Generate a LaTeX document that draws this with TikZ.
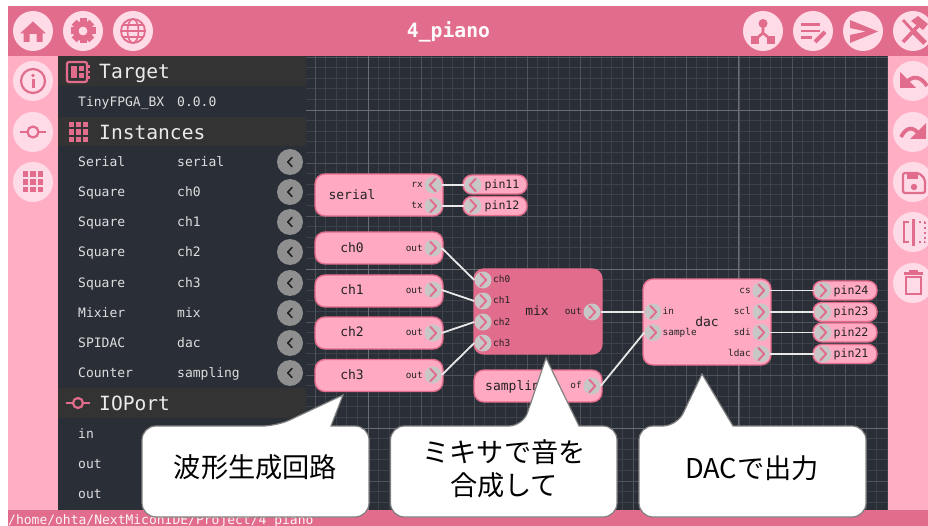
\documentclass[tikz,border=0pt]{standalone}
\usepackage{fontspec}
\setmainfont{DejaVu Sans Mono}
\setmonofont{DejaVu Sans Mono}
\newfontfamily\jpfont{Noto Sans CJK JP}
\definecolor{pinkd}{HTML}{E26C8C}
\definecolor{pinkn}{HTML}{FFAAC2}
\definecolor{pinkl}{HTML}{FFDBE8}
\definecolor{pinkp}{HTML}{FFAEC4}
\definecolor{darkbg}{HTML}{2A2E37}
\definecolor{headbg}{HTML}{333333}
\definecolor{gridA}{HTML}{3D4149}
\definecolor{gridB}{HTML}{4F535B}
\definecolor{gridC}{HTML}{6A6D74}
\definecolor{side}{HTML}{DEDEDE}
\definecolor{ink}{HTML}{222222}
\definecolor{wire}{HTML}{E8E8E8}
\newcommand\fsz[1]{\fontsize{#1}{#1}\selectfont}
\tikzset{
 block/.style={draw=pinkd,fill=pinkn,line width=1.4,rounded corners=10,inner sep=0,minimum width=128},
 pinbox/.style={draw=pinkd,fill=pinkn,line width=1.4,rounded corners=9,inner sep=0,minimum width=64,minimum height=19},
 portdot/.style={circle,fill=black!22,inner sep=0,minimum size=17},
 chev/.style={draw=pinkd,line width=1.9,line cap=round,line join=round},
 wirel/.style={draw=wire,line width=1.8},
 lbl/.style={inner sep=0,text=ink,font=\fsz{13},text height=9.5,text depth=2.6,yshift=-1},
 plbl/.style={inner sep=0,text=ink,font=\fsz{9.4},text height=7,text depth=1.9,yshift=-.8},
 pinl/.style={inner sep=0,text=ink,font=\fsz{11.6},text height=8.7,text depth=2.3,yshift=-1},
 sidet/.style={inner sep=0,anchor=west,text=side,font=\fsz{13},text height=9.5,text depth=2.6,yshift=-1.2},
 headt/.style={inner sep=0,anchor=west,text=white!92!black,font=\fsz{19.6},text height=14.7,text depth=3.9,yshift=-1.8},
 toolc/.style={circle,fill=pinkl,inner sep=0,minimum size=40},
 sbtn/.style={circle,fill=black!44,inner sep=0,minimum size=26},
 callout/.style={draw=black!50,fill=white,line width=1.2},
 calltxt/.style={inner sep=0,text=black,font=\jpfont\fsz{27.2},align=center},
 ico/.style={draw=pinkd,line width=2.2},
}
\newcommand\portR[3]{\node[portdot] (#1) at (#2,#3) {};\draw[chev] (#2-2.6,#3-6.2) -- (#2+3.2,#3) -- (#2-2.6,#3+6.2);}
\newcommand\portL[3]{\node[portdot] (#1) at (#2,#3) {};\draw[chev] (#2+2.6,#3-6.2) -- (#2-3.2,#3) -- (#2+2.6,#3+6.2);}
\newcommand\gridsq[3]{\foreach \gi in {0,1,2}{\foreach \gj in {0,1,2}{\fill[pinkd] (#1+\gi*#3,#2+\gj*#3) rectangle ++(#3-2,#3-2);}}}
\begin{document}
\begin{tikzpicture}[x=1pt,y=-1pt]
\useasboundingbox (0,0) rectangle (928,526);
\fill[white] (0,0) rectangle (928,526);
% canvas and grid
\fill[darkbg] (306,56) rectangle (888,510);
\begin{scope}
\clip (306,56) rectangle (888,510);
\foreach \i in {-6,...,49}{\draw[gridA,line width=.8] (368+10.6*\i,56) -- (368+10.6*\i,510);}
\foreach \j in {-20,...,24}{\draw[gridA,line width=.8] (306,269+10.6*\j) -- (888,269+10.6*\j);}
\foreach \i in {-1,0,...,9}{\draw[gridB,line width=.9] (368+53*\i,56) -- (368+53*\i,510);}
\foreach \j in {-4,...,4}{\draw[gridB,line width=.9] (306,269+53*\j) -- (888,269+53*\j);}
\foreach \v in {368,738}{\draw[gridC,line width=.9] (\v,56) -- (\v,510);}
\foreach \v in {110,269,428}{\draw[gridC,line width=.9] (306,\v) -- (888,\v);}
\end{scope}
% panels
\fill[pinkp] (8,56) rectangle (58,510);
\fill[pinkp] (888,56) rectangle (928,510);
\fill[darkbg] (58,56) rectangle (306,510);
\fill[pinkd] (8,6) rectangle (928,56);
\fill[pinkd] (8,510) rectangle (928,526);
\foreach \a/\b/\c in {56/86/1,117/146/2,388/418/3}{\fill[headbg] (58,\a) rectangle (306,\b);}
% title and status
\node[inner sep=0,text=white!96!pinkd,font=\bfseries\fsz{19.7}] (title) at (448.5,31.5) {4\_piano};
\node[inner sep=0,anchor=west,text=white!94!pinkd,font=\fsz{13}] (status) at (8,521) {/home/ohta/NextMiconIDE/Project/4\_piano};
% sidebar text
\node[headt] (hTarget) at (99,71.5) {Target};
\node[headt] (hInst) at (99,132) {Instances};
\node[headt] (hIO) at (99,403) {IOPort};
\node[sidet] (tgtA) at (78,101.5) {TinyFPGA\_BX};
\node[sidet] (tgtB) at (177,101.5) {0.0.0};
\foreach \y/\a/\b [count=\n] in {162/Serial/serial,192/Square/ch0,222/Square/ch1,252/Square/ch2,283/Square/ch3,313/Mixier/mix,343/SPIDAC/dac,373/Counter/sampling}{
 \node[sidet] (ra\n) at (78,\y) {\a};
 \node[sidet] (rb\n) at (177,\y) {\b};
 \node[sbtn] (rc\n) at (290,\y) {};
 \draw[draw=ink,line width=1.6,line cap=round,line join=round] (292,\y-4.5) -- (287.8,\y) -- (292,\y+4.5);
}
\node[sidet] (ioA) at (78,433.5) {in};
\node[sidet] (ioB) at (78,463.5) {out};
\node[sidet] (ioC) at (78,493.5) {out};
% sidebar icons
\draw[ico,rounded corners=2] (67,62) rectangle (87,82);
\foreach \v in {65.5,71,76.5}{\fill[pinkd] (87,\v) rectangle ++(3,2.5);}
\fill[pinkd] (71,66) rectangle (76.5,78);
\fill[pinkd] (78.5,66) rectangle (83.5,71);
\fill[pinkd] (78.5,73) rectangle (83.5,78);
\gridsq{68.5}{122}{7.3}
\draw[ico] (66,403) -- (90,403);
\draw[ico,fill=headbg] (78,403) circle (5);
% tool buttons
\foreach \nm/\px/\py in {home/33/31,gear/83/31,globe/133/31,tree/763/31,notes/813/31,send/863/31,tools/913/31,info/33/81,port/33/132,inst/33/182,undo/913/81,redo/913/132,save/913/182,split/913/232,trash/913/283}{
 \node[toolc] (\nm) at (\px,\py) {};
}
% home
\fill[pinkd] (33,21.5) -- (46,33.5) -- (42.5,33.5) -- (42.5,42) -- (36.5,42) -- (36.5,34) -- (29.5,34) -- (29.5,42) -- (23.5,42) -- (23.5,33.5) -- (20,33.5) -- cycle;
% gear
\foreach \r in {0,45,...,315}{\fill[pinkd,rotate around={\r:(83,31)}] (79.5,18.5) rectangle (86.5,26);}
\draw[pinkd,line width=5.5] (83,31) circle (7.2);
% globe
\draw[ico,line width=1.8] (133,31) circle (12);
\draw[ico,line width=1.6] (133,31) ellipse (5.5 and 12);
\draw[ico,line width=1.6] (121,31) -- (145,31) (123,25) -- (143,25) (123,37) -- (143,37);
% tree
\fill[pinkd] (763,23.5) circle (4.5);
\fill[pinkd] (751,36) rectangle (759,44);
\fill[pinkd] (767,36) rectangle (775,44);
\draw[ico,line width=2.6] (763,26) -- (763,33) -- (757,38) (763,33) -- (769,38);
% notes
\draw[ico,line width=2.2] (801,24.5) -- (820,24.5) (801,31) -- (820,31) (801,37.5) -- (812,37.5);
\draw[pinkd,line width=4] (815,42) -- (825,32);
% send
\fill[pinkd] (850,20) -- (878,31.5) -- (850,43) -- (850,35) -- (866,31.5) -- (850,28) -- cycle;
% tools
\draw[pinkd,line width=2.8] (903,20) -- (913,31);
\draw[pinkd,line width=5] (913,31) -- (925,43);
\draw[pinkd,line width=3.6] (903,42) -- (918,26);
\fill[pinkd] (911,21) -- (918,16) -- (928,24) -- (923,30) -- cycle;
% info
\draw[ico] (33,81) circle (12);
\fill[pinkd] (33,75.5) circle (1.8);
\fill[pinkd] (31.5,79) rectangle (34.5,88);
% port
\draw[ico] (20,132) -- (46,132);
\draw[ico,fill=pinkl] (33,132) circle (5.5);
% instances
\gridsq{22.5}{171.5}{7.6}
% undo
\fill[pinkd] (900,72) -- (900,88) -- (916,88) -- cycle;
\draw[pinkd,line width=3.8] (906,83) .. controls (912,75) and (921,76) .. (927,86);
% redo
\fill[pinkd] (926,123) -- (926,139) -- (910,139) -- cycle;
\draw[pinkd,line width=3.8] (919,134) .. controls (913,126) and (906,127) .. (901,137);
% save
\draw[ico,rounded corners=2] (903,173) -- (919,173) -- (925,179) -- (925,193) -- (903,193) -- cycle;
\fill[pinkd] (907,174) rectangle (918,179);
\fill[pinkd] (914,187) circle (3.2);
% split
\draw[ico] (909,222) -- (904,222) -- (904,242) -- (909,242);
\draw[ico] (913.5,219) -- (913.5,246);
\draw[pinkd,line width=2.2,dash pattern=on 2.5 off 2.5] (925,222) -- (925,243);
\draw[pinkd,line width=2,dash pattern=on 2 off 3] (919,222) -- (925,222) (919,242) -- (925,242);
% trash
\draw[ico] (906,277) rectangle (921,294);
\draw[ico] (904,273.5) -- (923,273.5);
\draw[ico] (909,271) -- (918,271);
% blocks
\node[block,minimum height=42] (serial) at (379,195) {};
\node[block,minimum height=32] (ch0) at (379,248) {};
\node[block,minimum height=32] (ch1) at (379,291) {};
\node[block,minimum height=32] (ch2) at (379,333) {};
\node[block,minimum height=32] (ch3) at (379,375.5) {};
\node[block,minimum height=85,fill=pinkd] (mix) at (538,311.5) {};
\node[block,minimum height=32] (sampling) at (538,386) {};
\node[block,minimum height=86] (dac) at (707,322) {};
\node[pinbox] (pin11) at (495,184.5) {};
\node[pinbox] (pin12) at (495,206) {};
\node[pinbox] (pin24) at (845,290.5) {};
\node[pinbox] (pin23) at (845,312) {};
\node[pinbox] (pin22) at (845,332.5) {};
\node[pinbox] (pin21) at (845,354) {};
% block labels
\node[lbl] at (352,195) {serial};
\node[lbl] at (352,248) {ch0};
\node[lbl] at (352,290) {ch1};
\node[lbl] at (352,332) {ch2};
\node[lbl] at (352,375) {ch3};
\node[lbl] at (537,311.5) {mix};
\node[lbl,anchor=west] at (485,386) {sampling};
\node[lbl] at (707,322) {dac};
\node[pinl] at (502,184.5) {pin11};
\node[pinl] at (502,205.5) {pin12};
\node[pinl] at (851,290.5) {pin24};
\node[pinl] at (851,311.5) {pin23};
\node[pinl] at (851,332.5) {pin22};
\node[pinl] at (851,353.5) {pin21};
% ports
\portL{p-rx}{433}{185}
\portR{p-tx}{433}{206}
\portR{p-ch0}{433}{248}
\portR{p-ch1}{433}{290}
\portR{p-ch2}{433}{333}
\portR{p-ch3}{433}{375}
\portR{m-ch0}{483}{280}
\portR{m-ch1}{483}{301}
\portR{m-ch2}{483}{322}
\portR{m-ch3}{483}{343}
\portR{m-out}{592}{312}
\portR{s-of}{592}{386}
\portL{i-11}{473}{185}
\portR{i-12}{473}{206}
\portR{d-in}{653}{312}
\portR{d-sample}{653}{332.5}
\portR{d-cs}{761}{290.5}
\portR{d-scl}{761}{312}
\portR{d-sdi}{761}{332.5}
\portR{d-ldac}{761}{354}
\portR{i-24}{823}{290.5}
\portR{i-23}{823}{312}
\portR{i-22}{823}{332.5}
\portR{i-21}{823}{354}
% port labels
\foreach \t/\lx/\ly in {rx/423/184.5,tx/423/205,out/423/248,out/423/290,out/423/332.5,out/423/375,out/582/311.5,of/582/385.5,cs/751/290,scl/751/311.5,sdi/751/332,ldac/751/353}{
 \node[plbl,anchor=east] at (\lx,\ly) {\t};
}
\foreach \t/\lx/\ly in {ch0/493/279.5,ch1/493/300.5,ch2/493/322,ch3/493/343,in/662.5/311.5,sample/662.5/332}{
 \node[plbl,anchor=west] at (\lx,\ly) {\t};
}
% connectors
\draw[wirel] (p-rx.east) -- (i-11.west);
\draw[wirel] (p-tx.east) -- (i-12.west);
\draw[wirel] (p-ch0.east) -- (m-ch0.west);
\draw[wirel] (p-ch1.east) -- (m-ch1.west);
\draw[wirel] (p-ch2.east) -- (m-ch2.west);
\draw[wirel] (p-ch3.east) -- (m-ch3.west);
\draw[wirel] (m-out.east) -- (d-in.west);
\draw[wirel] (s-of.east) -- (d-sample.west);
\draw[wirel] (d-cs.east) -- (i-24.west);
\draw[wirel] (d-scl.east) -- (i-23.west);
\draw[wirel] (d-sdi.east) -- (i-22.west);
\draw[wirel] (d-ldac.east) -- (i-21.west);
% callouts
\draw[callout,rounded corners=14] (142,470) -- (142,426) -- (277,426) [sharp corners] -- (343,395) -- (331,426) [rounded corners=14] -- (369,426) -- (369,517) -- (142,517) -- cycle;
\draw[callout,rounded corners=14] (390.5,470) -- (390.5,426) -- (523,426) [sharp corners] -- (546,358) -- (579,426) [rounded corners=14] -- (617,426) -- (617,517) -- (390.5,517) -- cycle;
\draw[callout,rounded corners=14] (639,470) -- (639,426) -- (677,426) [sharp corners] -- (702,374) -- (733,426) [rounded corners=14] -- (866,426) -- (866,517) -- (639,517) -- cycle;
\node[calltxt] (c1) at (255.5,467.5) {波形生成回路};
\node[calltxt] (c2a) at (504,452) {ミキサで音を};
\node[calltxt] (c2b) at (504,485) {合成して};
\node[calltxt] (c3) at (752,468) {DACで出力};
\end{tikzpicture}
\end{document}
